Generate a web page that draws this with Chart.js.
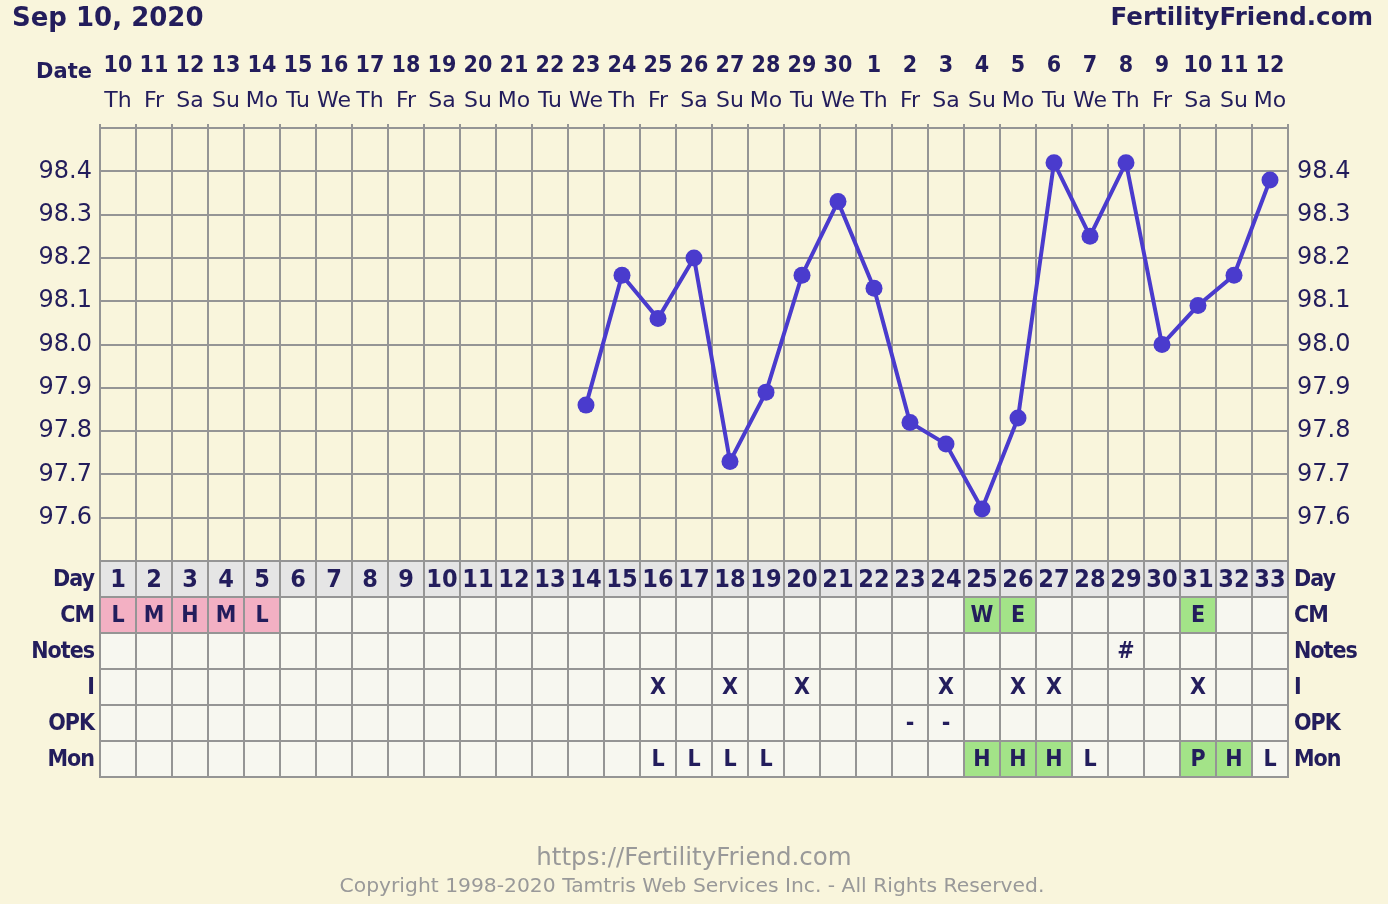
<!DOCTYPE html>
<html>
<head>
<meta charset="utf-8">
<script src="https://cdn.jsdelivr.net/npm/chart.js@4.4.1/dist/chart.umd.min.js"></script>
<style>
  html, body { margin: 0; padding: 0; background: #f9f5dc; }
  canvas { display: block; }
</style>
</head>
<body>
<canvas id="bbtChart" width="1388" height="904"></canvas>
<script>
const cycleDays = ['1','2','3','4','5','6','7','8','9','10','11','12','13','14','15','16','17',
  '18','19','20','21','22','23','24','25','26','27','28','29','30','31','32','33'];
const dateLabels = ['10','11','12','13','14','15','16','17','18','19','20','21','22','23','24','25','26',
  '27','28','29','30','1','2','3','4','5','6','7','8','9','10','11','12'];
const weekDays = ['Th','Fr','Sa','Su','Mo','Tu','We','Th','Fr','Sa','Su','Mo','Tu','We','Th','Fr','Sa',
  'Su','Mo','Tu','We','Th','Fr','Sa','Su','Mo','Tu','We','Th','Fr','Sa','Su','Mo'];
const temps = [null, null, null, null, null, null, null, null, null, null, null, null, null,
  97.86, 98.16, 98.06, 98.2, 97.73, 97.89, 98.16, 98.33, 98.13, 97.82, 97.77, 97.62, 97.83,
  98.42, 98.25, 98.42, 98.0, 98.09, 98.16, 98.38];

// table rows under the chart, one entry per cycle day
const cmRow = ['L','M','H','M','L','','','','','','','','','','','','','','','','','','','','W','E','','','','','E','',''];
const notesRow = ['','','','','','','','','','','','','','','','','','','','','','','','','','','','','#','','','',''];
const intercourseRow = ['','','','','','','','','','','','','','','','X','','X','','X','','','','X','','X','X','','','','X','',''];
const opkRow = ['','','','','','','','','','','','','','','','','','','','','','','-','-','','','','','','','','',''];
const monitorRow = ['','','','','','','','','','','','','','','','L','L','L','L','','','','','','H','H','H','L','','','P','H','L'];

const ink = '#231d5c';
const gridGray = '#959595';
const lineBlue = '#4a3bcd';
const pageBg = '#f9f5dc';
const pink = '#f3b0c3';
const green = '#a3e388';

const tableRows = [
  { label: 'CM', values: cmRow, fills: { L: pink, M: pink, H: pink, W: green, E: green } },
  { label: 'Notes', values: notesRow, fills: {} },
  { label: 'I', values: intercourseRow, fills: {} },
  { label: 'OPK', values: opkRow, fills: {} },
  { label: 'Mon', values: monitorRow, fills: { H: green, P: green } }
];
const rowH = 36;

const tablePlugin = {
  id: 'fertilityTable',
  beforeDraw(chart) {
    const { ctx, chartArea, scales } = chart;
    const x = scales.x;
    const cellW = x.width / cycleDays.length;
    const top = chartArea.bottom;
    ctx.save();
    ctx.fillStyle = pageBg;
    ctx.fillRect(0, 0, chart.width, chart.height);

    // day row + empty cells
    ctx.fillStyle = '#e5e5e5';
    ctx.fillRect(x.left, top, x.width, rowH);
    ctx.fillStyle = '#f7f7f0';
    ctx.fillRect(x.left, top + rowH, x.width, rowH * tableRows.length);

    tableRows.forEach((row, r) => {
      row.values.forEach((v, i) => {
        const fill = row.fills[v];
        if (!fill) return;
        ctx.fillStyle = fill;
        ctx.fillRect(x.getPixelForValue(i) - cellW / 2, top + rowH * (r + 1), cellW, rowH);
      });
    });

    // table grid
    const bottom = top + rowH * (tableRows.length + 1);
    ctx.strokeStyle = gridGray;
    ctx.lineWidth = 2;
    ctx.beginPath();
    for (let r = 0; r <= tableRows.length + 1; r++) {
      ctx.moveTo(x.left - 1, top + r * rowH);
      ctx.lineTo(x.right + 1, top + r * rowH);
    }
    for (let i = 0; i <= cycleDays.length; i++) {
      const px = Math.round(x.left + i * cellW);
      ctx.moveTo(px, top);
      ctx.lineTo(px, bottom);
    }
    ctx.stroke();

    // cell letters
    ctx.fillStyle = ink;
    ctx.textAlign = 'center';
    ctx.textBaseline = 'middle';
    ctx.font = 'bold 23px "DejaVu Sans Condensed", "DejaVu Sans"';
    tableRows.forEach((row, r) => {
      row.values.forEach((v, i) => {
        if (v) ctx.fillText(v, x.getPixelForValue(i), top + rowH * (r + 1) + rowH / 2 + 1);
      });
    });

    // row labels, both sides
    ctx.font = 'bold 23px "DejaVu Sans Condensed", "DejaVu Sans"';
    ctx.letterSpacing = '-1px';
    const labels = ['Day'].concat(tableRows.map(r => r.label));
    labels.forEach((lab, r) => {
      const cy = top + r * rowH + rowH / 2 + 1;
      ctx.textAlign = 'right';
      ctx.fillText(lab, x.left - 6, cy);
      ctx.textAlign = 'left';
      ctx.fillText(lab, x.right + 6, cy);
    });
    ctx.letterSpacing = '0px';
    ctx.textAlign = 'right';
    ctx.font = 'bold 21px "DejaVu Sans"';
    ctx.fillText('Date', x.left - 8, 73);

    // header
    ctx.font = 'bold 26px "DejaVu Sans"';
    ctx.textAlign = 'left';
    ctx.fillText('Sep 10, 2020', 12, 19);
    ctx.font = 'bold 24.5px "DejaVu Sans"';
    ctx.textAlign = 'right';
    ctx.fillText('FertilityFriend.com', 1373, 19);

    // footer
    ctx.fillStyle = '#999999';
    ctx.textAlign = 'center';
    ctx.font = '24.5px "DejaVu Sans"';
    ctx.fillText('https://FertilityFriend.com', chart.width / 2, 859);
    ctx.font = '20.3px "DejaVu Sans"';
    ctx.fillText('Copyright 1998-2020 Tamtris Web Services Inc. - All Rights Reserved.', chart.width / 2 - 2, 887);
    ctx.restore();
  }
};

const tempTicks = {
  stepSize: 0.1,
  color: ink,
  font: { family: '"DejaVu Sans"', size: 24 },
  callback: (v) => (v < 97.55 || v > 98.45) ? '' : Number(v).toFixed(1)
};

new Chart(document.getElementById('bbtChart'), {
  type: 'line',
  data: {
    labels: cycleDays,
    datasets: [{
      data: temps,
      borderColor: lineBlue,
      backgroundColor: lineBlue,
      borderWidth: 4,
      pointRadius: 8.5,
      pointBorderWidth: 0,
      pointHoverRadius: 8.5,
      tension: 0,
      xAxisID: 'x',
      yAxisID: 'y'
    }]
  },
  options: {
    responsive: false,
    animation: false,
    layout: { padding: 0 },
    plugins: {
      legend: { display: false },
      tooltip: { enabled: false }
    },
    scales: {
      x: {
        position: 'bottom',
        offset: true,
        grid: { offset: true, color: gridGray, lineWidth: 2, drawTicks: false },
        border: { color: gridGray, width: 2 },
        ticks: {
          color: ink, padding: 4, maxRotation: 0, autoSkip: false,
          font: { family: '"DejaVu Sans Condensed"', weight: 'bold', size: 25, lineHeight: 1.2 }
        },
        afterFit: (s) => { s.height = 343; }
      },
      xWeek: {
        type: 'category',
        labels: weekDays,
        position: 'top',
        weight: 1,
        offset: true,
        grid: { offset: true, drawOnChartArea: false, color: gridGray, lineWidth: 2, tickLength: 4 },
        border: { display: false },
        ticks: {
          color: ink, padding: 10, maxRotation: 0, autoSkip: false,
          font: { family: '"DejaVu Sans"', size: 22, lineHeight: 1.2 }
        },
        afterFit: (s) => { s.height = 48; }
      },
      xDate: {
        type: 'category',
        labels: dateLabels,
        position: 'top',
        weight: 2,
        offset: true,
        grid: { display: false, drawTicks: false },
        border: { display: false },
        ticks: {
          color: ink, padding: 0, maxRotation: 0, autoSkip: false,
          font: { family: '"DejaVu Sans Condensed"', weight: 'bold', size: 23, lineHeight: 1.2 }
        },
        afterFit: (s) => { s.height = 80; }
      },
      y: {
        position: 'left',
        min: 97.5,
        max: 98.5,
        grid: { color: gridGray, lineWidth: 2, drawTicks: false },
        border: { color: gridGray, width: 2 },
        ticks: Object.assign({ padding: 8 }, tempTicks),
        afterFit: (s) => { s.width = 100; }
      },
      y2: {
        position: 'right',
        min: 97.5,
        max: 98.5,
        grid: { display: false, drawTicks: false },
        border: { color: gridGray, width: 2 },
        ticks: Object.assign({ padding: 9 }, tempTicks),
        afterFit: (s) => { s.width = 100; }
      }
    }
  },
  plugins: [tablePlugin]
});
</script>
</body>
</html>
